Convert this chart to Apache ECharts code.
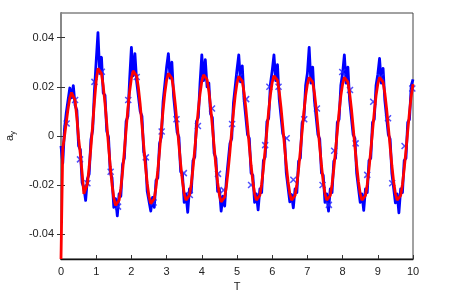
<!DOCTYPE html>
<html><head><meta charset="utf-8">
<script src="https://cdn.jsdelivr.net/npm/echarts@6/dist/echarts.min.js"></script>
<style>html,body{margin:0;padding:0;background:#fff}#c{width:452px;height:295px}</style>
</head><body><div id="c"></div>
<script>
// sample spacing of the two traces (T units)
const tStep = 0.05;
// red smooth trace, T = 0, 0.05, ..., 10
const redV = [
-0.050,-0.005,0.000,0.0055,0.0110,0.0155,0.0177,0.0178,0.0145,0.0075,
-0.0010,-0.0075,-0.0150,-0.0235,-0.0232,-0.0195,-0.0125,-0.0045,0.0045,0.0140,
0.0225,0.0275,0.0278,0.0253,0.0203,0.0133,0.0050,-0.0039,-0.0124,-0.0198,
-0.0252,-0.0282,-0.0285,-0.0261,-0.0212,-0.0143,-0.0061,0.0026,0.0110,0.0182,
0.0235,0.0265,0.0268,0.0244,0.0195,0.0128,0.0046,-0.0039,-0.0122,-0.0193,
-0.0246,-0.0275,-0.0278,-0.0254,-0.0207,-0.0140,-0.0061,0.0024,0.0105,0.0175,
0.0227,0.0255,0.0258,0.0235,0.0189,0.0124,0.0046,-0.0036,-0.0115,-0.0183,
-0.0233,-0.0261,-0.0264,-0.0241,-0.0196,-0.0131,-0.0055,0.0027,0.0105,0.0172,
0.0222,0.0249,0.0252,0.0229,0.0183,0.0118,0.0040,-0.0042,-0.0122,-0.0190,
-0.0240,-0.0268,-0.0271,-0.0248,-0.0203,-0.0138,-0.0062,0.0020,0.0098,0.0165,
0.0215,0.0242,0.0245,0.0223,0.0178,0.0114,0.0039,-0.0042,-0.0119,-0.0185,
-0.0234,-0.0261,-0.0264,-0.0241,-0.0196,-0.0132,-0.0056,0.0024,0.0102,0.0169,
0.0218,0.0245,0.0248,0.0226,0.0180,0.0116,0.0040,-0.0040,-0.0118,-0.0185,
-0.0234,-0.0261,-0.0264,-0.0242,-0.0197,-0.0134,-0.0059,0.0020,0.0097,0.0163,
0.0211,0.0238,0.0241,0.0219,0.0174,0.0111,0.0036,-0.0043,-0.0120,-0.0186,
-0.0234,-0.0261,-0.0264,-0.0242,-0.0197,-0.0134,-0.0059,0.0020,0.0097,0.0163,
0.0211,0.0238,0.0241,0.0219,0.0174,0.0111,0.0036,-0.0043,-0.0120,-0.0186,
-0.0234,-0.0261,-0.0264,-0.0242,-0.0197,-0.0134,-0.0059,0.0020,0.0097,0.0163,
0.0211,0.0238,0.0241,0.0219,0.0174,0.0111,0.0036,-0.0043,-0.0120,-0.0186,
-0.0234,-0.0261,-0.0264,-0.0242,-0.0197,-0.0134,-0.0059,0.0020,0.0097,0.0163,
0.0211
];
// blue noisy trace, T = 0, 0.05, ..., 10
const blueV = [
-0.0040,-0.0110,0.0030,0.0095,0.0090,0.0195,0.0155,0.0205,0.0125,0.0105,
-0.0040,-0.0055,-0.0190,-0.0210,-0.0262,-0.0175,-0.0155,-0.0015,0.0025,0.0185,
0.0305,0.0420,0.0255,0.0320,0.0175,0.0165,0.0020,-0.0005,-0.0150,-0.0170,
-0.0290,-0.0255,-0.0325,-0.0235,-0.0245,-0.0115,-0.0090,0.0060,0.0080,0.0230,
0.0360,0.0245,0.0335,0.0220,0.0225,0.0100,0.0080,-0.0065,-0.0090,-0.0225,
-0.0220,-0.0305,-0.0250,-0.0290,-0.0180,-0.0170,-0.0030,-0.0005,0.0140,0.0145,
0.0280,0.0335,0.0235,0.0300,0.0160,0.0155,0.0015,-0.0005,-0.0145,-0.0155,
-0.0270,-0.0235,-0.0310,-0.0215,-0.0230,-0.0100,-0.0085,0.0060,0.0075,0.0215,
0.0330,0.0225,0.0310,0.0200,0.0215,0.0090,0.0075,-0.0070,-0.0090,-0.0225,
-0.0215,-0.0305,-0.0245,-0.0285,-0.0175,-0.0170,-0.0030,-0.0010,0.0135,0.0135,
0.0270,0.0330,0.0220,0.0285,0.0150,0.0145,0.0005,-0.0010,-0.0150,-0.0160,
-0.0270,-0.0235,-0.0300,-0.0215,-0.0230,-0.0100,-0.0085,0.0058,0.0072,0.0212,
0.0265,0.0330,0.0225,0.0290,0.0150,0.0150,0.0010,-0.0010,-0.0150,-0.0158,
-0.0268,-0.0238,-0.0292,-0.0215,-0.0230,-0.0102,-0.0090,0.0053,0.0068,0.0205,
0.0255,0.0360,0.0215,0.0280,0.0145,0.0145,0.0005,-0.0012,-0.0150,-0.0160,
-0.0270,-0.0235,-0.0305,-0.0215,-0.0230,-0.0102,-0.0090,0.0055,0.0068,0.0205,
0.0255,0.0330,0.0215,0.0280,0.0145,0.0143,0.0005,-0.0010,-0.0152,-0.0160,
-0.0270,-0.0235,-0.0302,-0.0215,-0.0230,-0.0100,-0.0090,0.0055,0.0068,0.0205,
0.0250,0.0315,0.0215,0.0275,0.0145,0.0143,0.0005,-0.0012,-0.0152,-0.0160,
-0.0272,-0.0235,-0.0312,-0.0215,-0.0230,-0.0100,-0.0090,0.0055,0.0068,0.0205,
0.0230
];
// blue cross markers
const crossT = [0.16,0.40,0.54,0.75,0.95,1.16,1.41,1.62,1.91,2.15,2.41,2.63,2.86,3.28,3.49,3.66,3.89,4.29,4.46,4.62,4.86,5.06,5.26,5.40,5.80,5.92,6.18,6.41,6.60,6.91,7.27,7.43,7.61,7.76,7.99,8.21,8.37,8.70,8.87,9.08,9.29,9.41,9.76,9.98];
const crossV = [0.0051,0.0146,-0.0095,-0.0192,0.0220,0.0261,-0.0145,-0.0287,0.0146,0.0240,-0.0087,-0.0270,0.0018,0.0068,-0.0151,-0.0240,0.0041,0.0112,-0.0154,-0.0220,0.0049,0.0240,0.0150,-0.0199,-0.0037,0.0200,0.0200,-0.0009,-0.0178,0.0068,0.0112,-0.0199,-0.0280,-0.0060,0.0260,0.0187,-0.0030,-0.0158,0.0139,0.0240,0.0072,-0.0192,-0.0041,0.0193];
// axis ticks
const yTicks = [-0.04,-0.02,0,0.02,0.04];

const toPairs = arr => arr.map((v,i)=>[Math.round(i*tStep*100)/100, v]);
const FONT = 'Liberation Sans';
const chart = echarts.init(document.getElementById('c'), null, {renderer:'canvas'});
chart.setOption({
  animation:false,
  backgroundColor:'#fff',
  grid:{left:61,right:39,top:13,bottom:36,containLabel:false,outerBoundsMode:'none',show:true,borderColor:'#444',borderWidth:1,backgroundColor:'transparent'},
  xAxis:{type:'value',min:0,max:10,interval:1,
    name:'T',nameLocation:'middle',nameGap:22,
    nameTextStyle:{fontFamily:FONT,fontSize:11,color:'#222'},
    axisLine:{show:true,onZero:false,lineStyle:{color:'#111',width:1.3}},
    axisTick:{show:true,inside:true,length:4,lineStyle:{color:'#333'}},
    axisLabel:{fontFamily:FONT,fontSize:11,color:'#222',margin:7,formatter:v=>String(v)},
    splitLine:{show:false}},
  yAxis:[{type:'value',min:-0.05,max:0.05,
    name:'{a|a}{s|y}',nameLocation:'middle',nameGap:44,nameRotate:90,
    nameTextStyle:{fontFamily:FONT,color:'#222',rich:{a:{fontFamily:FONT,fontSize:11,color:'#222',lineHeight:14,verticalAlign:'middle'},s:{fontFamily:FONT,fontSize:8,color:'#222',lineHeight:14,verticalAlign:'bottom'}}},
    axisLine:{show:true,onZero:false,lineStyle:{color:'#333',width:1}},
    axisTick:{show:true,inside:true,length:4,customValues:yTicks,lineStyle:{color:'#333'}},
    axisLabel:{fontFamily:FONT,fontSize:11,color:'#222',margin:7,customValues:yTicks,formatter:v=>String(Math.round(v*100)/100)},
    splitLine:{show:false}},
   {type:'value',min:-0.05,max:0.05,position:'right',
    axisLine:{show:true,lineStyle:{color:'#888',width:2}},
    axisTick:{show:true,inside:true,length:4,customValues:yTicks,lineStyle:{color:'#333'}},
    axisLabel:{show:false},splitLine:{show:false}}],
  series:[
    {type:'line',data:toPairs(blueV),showSymbol:false,lineStyle:{color:'#0000ff',width:2.8,join:'round'},z:2},
    {type:'scatter',data:crossT.map((t,i)=>[t,crossV[i]]),symbol:'path://M0,0L10,10M10,0L0,10',symbolSize:6,
      itemStyle:{color:'rgba(0,0,0,0)',borderColor:'#2222ff',borderWidth:1.5},z:3},
    {type:'line',data:toPairs(redV),showSymbol:false,lineStyle:{color:'#ff0000',width:2.8},z:4}
  ]
});
</script></body></html>
